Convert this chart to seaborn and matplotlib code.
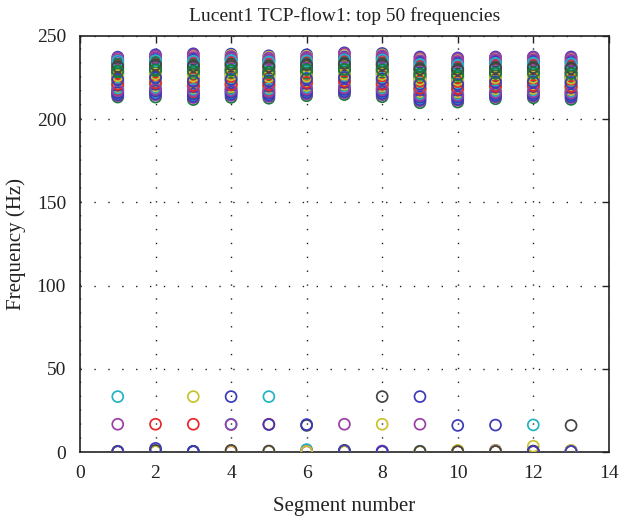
import matplotlib
matplotlib.use("Agg")
import matplotlib.pyplot as plt
import seaborn as sns
import pandas as pd

# ---- data: top 50 frequencies (Hz) per segment ----
segments = [1, 2, 3, 4, 5, 6, 7, 8, 9, 10, 11, 12, 13]

seg01 = [237.2, 221.3, 229.5, 215.4, 233.1, 224.4, 218.2, 235.0, 213.2, 226.6, 231.0, 219.6, 236.1, 222.5, 228.1, 216.3, 232.4, 225.2, 214.1, 230.2, 220.4, 234.3, 227.3, 217.5, 223.1, 236.6, 219.1, 229.0, 214.6, 232.9, 224.9, 218.6, 235.5, 222.0, 230.7, 215.8, 227.9, 220.9, 234.8, 217.0, 226.1, 231.6, 223.7, 228.8,
         0.3, 33.3, 16.7, 0.5, 0.2, 0.4]
seg02 = [238.6, 222.0, 230.4, 216.1, 234.2, 225.0, 219.3, 236.5, 213.2, 227.8, 232.1, 220.5, 237.3, 223.6, 229.2, 217.4, 233.5, 226.3, 214.5, 231.3, 221.2, 235.6, 228.4, 218.1, 224.2, 237.9, 219.8, 230.0, 215.2, 233.9, 225.7, 218.9, 236.9, 222.9, 231.8, 216.8, 228.9, 221.7, 235.1, 217.9, 227.1, 232.7, 224.8, 229.6,
         16.7, 0.4, 0.6, 0.3, 1.0, 2.2]
seg03 = [239.2, 220.6, 229.8, 214.3, 234.0, 223.9, 217.2, 236.3, 211.7, 226.4, 231.7, 218.8, 237.8, 222.2, 228.3, 215.6, 233.2, 225.1, 212.9, 230.9, 219.7, 235.4, 227.5, 216.4, 223.0, 238.5, 218.2, 229.1, 213.6, 232.6, 224.6, 217.8, 236.9, 221.4, 231.2, 215.0, 227.0, 220.1, 234.7, 216.9, 225.8, 232.0, 222.7, 228.7,
         16.7, 0.5, 0.2, 33.3, 0.4, 0.3]
seg04 = [239.0, 221.8, 230.1, 215.7, 234.5, 224.7, 218.6, 236.8, 213.0, 227.4, 232.3, 220.0, 238.2, 223.3, 228.9, 216.7, 233.6, 226.0, 214.2, 231.0, 221.0, 235.9, 228.0, 217.6, 224.1, 237.6, 219.4, 229.6, 214.9, 233.0, 225.5, 218.0, 236.2, 222.6, 231.6, 216.1, 227.2, 220.7, 235.2, 217.2, 226.6, 232.8, 223.8, 229.3,
         0.3, 16.7, 16.5, 0.5, 1.0, 33.3]
seg05 = [238.0, 221.0, 229.3, 215.0, 233.4, 223.9, 217.8, 235.7, 212.5, 226.5, 231.2, 219.3, 237.2, 222.3, 227.8, 216.0, 232.5, 225.1, 213.6, 230.3, 220.2, 234.9, 227.0, 217.0, 223.2, 236.6, 218.6, 228.7, 214.3, 232.0, 224.6, 218.1, 235.2, 221.6, 230.8, 215.5, 226.9, 220.6, 234.3, 216.5, 225.6, 231.7, 222.8, 228.2,
         16.7, 33.3, 0.4, 0.3, 0.6, 16.5]
seg06 = [238.6, 222.4, 230.5, 216.5, 234.3, 225.3, 219.6, 236.6, 214.0, 228.0, 232.2, 220.9, 237.6, 223.8, 229.4, 217.6, 233.7, 226.7, 215.1, 231.4, 221.6, 235.5, 228.6, 218.5, 224.6, 237.1, 220.1, 230.0, 215.8, 233.1, 226.0, 219.0, 236.0, 223.0, 231.9, 217.1, 227.5, 222.0, 234.9, 218.0, 225.8, 232.7, 224.2, 229.7,
         0.2, 1.5, 0.4, 0.3, 16.0, 16.5]
seg07 = [239.8, 223.0, 231.2, 217.2, 235.0, 226.0, 220.3, 237.4, 214.7, 228.7, 233.0, 221.6, 238.6, 224.5, 230.0, 218.3, 234.3, 227.3, 215.8, 232.0, 222.3, 236.2, 229.2, 219.2, 225.3, 239.2, 220.8, 230.6, 216.5, 233.7, 226.6, 219.7, 236.8, 223.7, 232.5, 217.8, 228.2, 222.7, 235.6, 218.8, 227.0, 233.4, 224.9, 229.8,
         0.3, 0.5, 16.7, 0.2, 1.0, 0.8]
seg08 = [239.4, 222.2, 230.6, 216.0, 234.8, 225.2, 218.9, 237.1, 213.4, 227.9, 232.5, 220.4, 238.5, 223.6, 229.3, 217.1, 233.9, 226.5, 214.6, 231.5, 221.4, 236.1, 228.4, 218.0, 224.5, 238.0, 219.8, 229.9, 215.3, 233.2, 225.8, 218.5, 236.6, 222.9, 232.0, 216.6, 227.3, 221.0, 235.5, 217.6, 226.9, 232.9, 224.1, 229.6,
         0.2, 0.4, 0.6, 16.7, 33.3, 0.3]
seg09 = [237.3, 219.0, 227.9, 212.5, 232.2, 222.1, 215.8, 234.5, 209.8, 224.8, 229.9, 217.0, 236.0, 220.6, 226.4, 213.8, 231.3, 223.4, 211.0, 228.9, 218.0, 233.6, 225.6, 214.6, 221.3, 236.7, 216.4, 227.2, 211.7, 230.6, 222.8, 215.2, 235.0, 219.7, 229.4, 213.2, 225.0, 218.5, 232.8, 214.2, 223.9, 230.1, 220.9, 226.9,
         0.3, 0.5, 16.7, 0.2, 0.4, 33.3]
seg10 = [236.7, 218.8, 227.5, 212.6, 231.6, 221.7, 215.6, 234.0, 210.2, 224.4, 229.3, 216.9, 235.4, 220.3, 225.9, 213.9, 230.8, 223.0, 211.3, 228.4, 217.8, 233.1, 225.1, 214.7, 221.0, 236.1, 216.2, 226.8, 211.9, 230.1, 222.4, 215.0, 234.6, 219.4, 229.0, 213.3, 224.7, 218.3, 232.4, 214.2, 223.6, 229.7, 220.7, 226.3,
         0.2, 0.4, 0.6, 1.0, 0.3, 16.0]
seg11 = [237.3, 220.3, 228.5, 214.6, 232.6, 223.2, 217.3, 234.9, 212.2, 225.8, 230.4, 218.7, 236.3, 221.7, 227.2, 215.6, 231.8, 224.5, 213.3, 229.6, 219.5, 234.1, 226.4, 216.4, 222.6, 236.8, 218.0, 228.0, 213.9, 231.1, 223.9, 217.0, 235.5, 221.0, 230.0, 215.1, 225.2, 219.9, 233.4, 216.0, 224.9, 230.9, 222.1, 227.6,
         0.3, 0.5, 1.0, 0.8, 0.4, 16.2]
seg12 = [237.3, 220.6, 228.8, 214.9, 232.8, 223.4, 217.7, 235.0, 212.8, 226.1, 230.6, 218.9, 236.4, 221.9, 227.4, 215.9, 232.0, 224.7, 213.8, 229.8, 219.7, 234.3, 226.7, 216.8, 222.9, 236.9, 218.3, 228.2, 214.4, 231.3, 224.1, 217.2, 235.6, 221.2, 230.2, 215.4, 225.4, 220.1, 233.6, 216.3, 225.1, 231.0, 222.3, 227.8,
         0.2, 16.3, 0.4, 3.5, 0.6, 0.3]
seg13 = [237.3, 220.0, 228.3, 214.2, 232.5, 222.9, 216.9, 234.8, 211.8, 225.5, 230.2, 218.3, 236.2, 221.4, 227.0, 215.2, 231.6, 224.2, 212.9, 229.4, 219.2, 233.9, 226.2, 216.0, 222.3, 236.7, 217.6, 227.8, 213.5, 230.8, 223.6, 216.5, 235.3, 220.7, 229.9, 214.7, 225.0, 219.6, 233.2, 215.7, 224.6, 230.6, 221.9, 227.3,
         0.3, 0.5, 0.8, 1.0, 16.0, 0.4]

freqs_by_segment = [seg01, seg02, seg03, seg04, seg05, seg06, seg07,
                    seg08, seg09, seg10, seg11, seg12, seg13]

x_ticks = [0, 2, 4, 6, 8, 10, 12, 14]
y_ticks = [0, 50, 100, 150, 200, 250]

title = "Lucent1 TCP-flow1: top 50 frequencies"
xlabel = "Segment number"
ylabel = "Frequency (Hz)"

# MATLAB-like line colour order (softened as in the reference)
line_colors = ["#3b3bb8", "#1b7a3c", "#e8262b", "#22b4c4",
               "#9a3ea6", "#c9c230", "#444444"]

# ---- build table ----
rows = []
for seg, freqs in zip(segments, freqs_by_segment):
    for i, f in enumerate(freqs):
        rows.append({"segment": seg, "frequency": f, "line": f"c{i % 7}"})
df = pd.DataFrame(rows)
palette = {f"c{k}": c for k, c in enumerate(line_colors)}

sns.set_style("white")
plt.rcParams["font.family"] = ["Liberation Serif", "DejaVu Serif"]

fig = plt.figure(figsize=(6.2, 5.19), dpi=100)
ax = fig.add_axes([0.129, 0.129, 0.853, 0.802])

sns.scatterplot(data=df, x="segment", y="frequency", hue="line",
                palette=palette, legend=False, s=62, linewidth=1.25,
                marker="o", ax=ax, zorder=3)
for coll in ax.collections:
    fc = coll.get_facecolors()
    coll.set_edgecolors(fc)
    coll.set_facecolors("none")

ax.set_xlim(0, 14)
ax.set_ylim(0, 250)
ax.set_xticks(x_ticks)
ax.set_yticks(y_ticks)
ax.tick_params(direction="in", top=True, right=True, length=5, width=1,
               labelsize=14, colors="#222222")
ax.tick_params(axis="x", pad=9)
ax.tick_params(axis="y", pad=10)
ax.grid(True, color="#222222", linestyle=(0, (1, 9)), linewidth=1.0)
for sp in ax.spines.values():
    sp.set_color("#222222")
    sp.set_linewidth(1.2)

ax.set_title(title, fontsize=14, color="#222222", pad=11)
ax.set_xlabel(xlabel, fontsize=15, color="#222222", labelpad=11)
ax.set_ylabel(ylabel, fontsize=15, color="#222222", labelpad=8)

fig.savefig("out.png", dpi=100)
